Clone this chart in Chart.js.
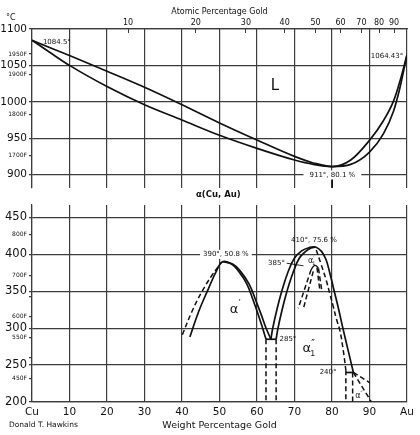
<!DOCTYPE html>
<html lang="en">
<head>
<meta charset="UTF-8">
<title>Copper - Gold</title>
<script src="https://cdn.jsdelivr.net/npm/chart.js"></script>
<style>
  body { margin: 0; background: #fff; }
  .wrap { position: relative; width: 420px; height: 435px; font-family: "DejaVu Sans", sans-serif; color: #111; }
  canvas { position: absolute; left: 0; }
  #topChart { top: 0; }
  #botChart { top: 196px; }
  .note { position: absolute; white-space: nowrap; }
</style>
</head>
<body>
<div class="wrap">
  <canvas id="topChart" width="420" height="196"></canvas>
  <canvas id="botChart" width="420" height="239"></canvas>
  <div class="note" style="left:6px; top:13px; font-size:8px;">°C</div>
  <div class="note" style="left:196px; top:189px; font-size:8.5px; font-weight:bold;">α(Cu, Au)</div>
  <div class="note" style="left:9px; top:420px; font-size:7.5px;">Donald T. Hawkins</div>
</div>
<script>
// ---- top panel: liquidus / solidus (wt% Au, deg C)
const liqWt = [0, 5, 10, 20, 30, 40, 50, 60, 70, 75, 80.1, 85, 90, 93.7, 96.4, 98.1, 100];
const liqT  = [1084.5, 1074, 1063.5, 1042, 1020, 996, 971, 947.5, 925, 916, 911, 920, 947, 974, 1001, 1028, 1064.43];
const solWt = [0, 5, 10, 20, 30, 40, 50, 60, 70, 75, 80.1, 85, 90, 93.7, 96.4, 98.1, 100];
const solT  = [1084.5, 1067, 1050, 1021, 996, 975, 954, 936, 920, 914, 911, 914, 931, 956, 987, 1019, 1064.43];
const minTickWt = [80.1, 80.1];
const minTickT  = [894, 882];

// ---- bottom panel: ordering domes
// alpha' dome
const a1OuterLWt = [40.1, 42.6, 45.2, 47.9, 49.7, 50.5];
const a1OuterLT  = [291, 322, 348.5, 371, 383.4, 389];
const a1InnerWt  = [42.1, 44.4, 47.0, 49.2, 50.8, 53.3, 55.0, 57.3, 59.0, 60.4, 61.4, 62.4];
const a1InnerT   = [288, 322, 353, 377.6, 390, 386.6, 377.6, 359.8, 337.4, 317.3, 301.6, 285];
const a1OuterRWt = [50.8, 53.6, 55.5, 57.9, 59.7, 61.2, 62.3, 63.7];
const a1OuterRT  = [390, 386.6, 377.6, 359.8, 337.4, 317.3, 301.6, 285];
// alpha1'' dome
const a2OuterWt = [63.7, 64.2, 65.3, 66.6, 68.2, 70.0, 72.0, 73.8, 75.6, 77.2, 78.4, 79.4, 80.6, 81.8, 82.9, 84.3, 85.7];
const a2OuterT  = [285, 300, 325, 350, 375, 395, 405, 409, 410, 404, 393, 375, 350, 325, 300, 270, 240];
const a2InnerLWt = [65.1, 65.6, 66.7, 68.0, 69.6, 71.3, 73.0, 74.4, 75.6];
const a2InnerLT  = [285, 300, 325, 350, 375, 395, 404, 408.5, 410];
const a2InnerRWt = [75.8, 77.0, 78.4, 79.4, 80.3, 81.2, 82.1, 83.0, 83.7];
const a2InnerRT  = [406, 388, 366, 347, 330, 312, 297, 270, 243];
// alpha1' region
const capWt = [74.4, 75.0, 75.5, 76.0, 76.4];
const capT  = [379, 383.5, 385, 383.5, 381];
const leaderWt = [67.9, 72.4];
const leaderT  = [388, 384.5];
const a3LineA = { wt: [74.4, 71.0], t: [379, 327] };
const a3LineB = { wt: [75.0, 72.4], t: [377, 327] };
const a3LineC = { wt: [76.0, 76.8], t: [382, 350] };
const a3LineD = { wt: [76.4, 77.3], t: [381, 350] };
// invariant lines and lower boundaries
const eut285Wt = [62.4, 65.1];
const eut285T  = [285, 285];
const eut240Wt = [83.7, 85.7];
const eut240T  = [240, 240];
const vertA = { wt: [62.4, 62.4], t: [285, 200] };
const vertB = { wt: [65.1, 65.1], t: [285, 200] };
const vertC = { wt: [83.7, 83.7], t: [243, 200] };
const vertD = { wt: [85.5, 85.5], t: [240, 200] };
const diagA = { wt: [85.7, 90.1], t: [240, 226] };
const diagB = { wt: [85.7, 90.5], t: [240, 200] };

// ---- ticks
const atPct = [10, 20, 30, 40, 50, 60, 70, 80, 90];
const topC = [900, 950, 1000, 1050, 1100];
const topF = [1950, 1900, 1800, 1700];
const botC = [200, 250, 300, 350, 400, 450];
const botF = [800, 700, 600, 550, 450];
const botFPlain = [650, 500];

const INK = '#111';
const GRID = '#3c3c3c';
const FAM = '"DejaVu Sans", sans-serif';

function atToWt(a) {
  const au = 196.97, cu = 63.55;
  return 100 * a * au / (a * au + (100 - a) * cu);
}
function fToC(f) { return (f - 32) * 5 / 9; }

function line(xs, ys, extra) {
  return Object.assign({
    data: xs.map((x, i) => ({ x: x, y: ys[i] })),
    borderColor: INK, borderWidth: 1.7, pointRadius: 0, fill: false, tension: 0
  }, extra || {});
}
const mono = { cubicInterpolationMode: 'monotone' };
const curve = { tension: 0.4 };
const dash = { borderDash: [5, 3], borderWidth: 1.5 };
const dashCurve = { borderDash: [5, 3], borderWidth: 1.5, tension: 0.4 };

function yAxis(min, max, cList, fList, fPlain, bigSize) {
  return {
    type: 'linear', min: min, max: max,
    afterBuildTicks: s => {
      const t = cList.map(v => ({ value: v }));
      fList.forEach(f => t.push({ value: fToC(f), lab: f + 'F', isF: true }));
      fPlain.forEach(f => t.push({ value: fToC(f), lab: '', isF: true }));
      s.ticks = t.sort((a, b) => a.value - b.value);
    },
    ticks: {
      autoSkip: false, padding: 2, color: INK,
      font: ctx => (ctx.tick && ctx.tick.isF) ? { size: 6, family: FAM } : { size: bigSize, family: FAM },
      callback: function (v, i, ticks) { return ticks[i].isF ? ticks[i].lab : String(v); }
    },
    grid: {
      color: ctx => (ctx.tick && ctx.tick.isF) ? 'rgba(0,0,0,0)' : GRID,
      tickColor: GRID, tickLength: 3, lineWidth: 1.2
    },
    border: { color: GRID, width: 1.2 },
    afterFit: s => { s.width = 32; }
  };
}

const notePlugin = {
  id: 'notes',
  afterDatasetsDraw(chart, args, opts) {
    const ctx = chart.ctx, xs = chart.scales.x, ys = chart.scales.y;
    ctx.save();
    ctx.textBaseline = 'middle';
    (opts.items || []).forEach(n => {
      const px = xs.getPixelForValue(n.x), py = ys.getPixelForValue(n.y);
      ctx.font = n.size + 'px ' + FAM;
      ctx.textAlign = n.align || 'center';
      const w = ctx.measureText(n.text).width;
      if (n.bg) {
        let left = px - w / 2;
        if (n.align === 'left') left = px;
        if (n.align === 'right') left = px - w;
        ctx.fillStyle = '#fff';
        ctx.fillRect(left - n.bg, py - n.size / 2 - 1, w + 2 * n.bg, n.size + 2);
      }
      ctx.fillStyle = INK;
      ctx.fillText(n.text, px, py);
      if (n.primes) {
        ctx.font = (n.size * 0.75) + 'px ' + FAM;
        ctx.textAlign = 'left';
        ctx.fillText(n.primes === 2 ? '″' : '′', px + w / 2, py - n.size * 0.35);
      }
      if (n.sub) {
        ctx.font = (n.size * 0.6) + 'px ' + FAM;
        ctx.textAlign = 'left';
        ctx.fillText(n.sub, px + w / 2 - 1, py + n.size * 0.4);
      }
    });
    ctx.restore();
  }
};

// ---------------- top chart
new Chart(document.getElementById('topChart'), {
  type: 'line',
  data: {
    datasets: [
      line(liqWt, liqT, mono),
      line(solWt, solT, mono),
      line(minTickWt, minTickT, { borderWidth: 1 })
    ]
  },
  options: {
    responsive: false, animation: false,
    layout: { padding: { left: 0, right: 13, top: 0, bottom: 4 } },
    plugins: {
      legend: { display: false }, tooltip: { enabled: false },
      notes: {
        items: [
          { text: '1084.5°', x: 2.9, y: 1082, size: 7, align: 'left' },
          { text: '1064.43°', x: 99.0, y: 1063.3, size: 7, align: 'right' },
          { text: 'L', x: 64.8, y: 1021.4, size: 15 },
          { text: '911°, 80.1 %', x: 80.1, y: 899.5, size: 7, bg: 6 }
        ]
      }
    },
    scales: {
      x: {
        type: 'linear', min: 0, max: 100, position: 'bottom',
        ticks: { display: false, stepSize: 10 },
        grid: { color: GRID, lineWidth: 1.2, drawTicks: false },
        border: { display: false },
        afterFit: s => { s.height = 0; }
      },
      xa: {
        type: 'linear', min: 0, max: 100, position: 'top',
        afterBuildTicks: s => { s.ticks = atPct.map(a => ({ value: atToWt(a) })); },
        ticks: {
          autoSkip: false, maxRotation: 0, padding: 5.5, color: INK,
          font: { size: 8, family: FAM },
          callback: (v, i) => String(atPct[i])
        },
        grid: { drawOnChartArea: false, tickLength: -4, color: GRID, lineWidth: 1 },
        border: { color: GRID, width: 1.2 },
        title: { display: true, text: 'Atomic Percentage Gold', color: INK, font: { size: 8, family: FAM }, padding: { top: 7, bottom: 0 } },
        afterFit: s => { s.height = 29; }
      },
      y: yAxis(882, 1100, topC, topF, [], 10.5)
    }
  },
  plugins: [notePlugin]
});

// ---------------- bottom chart
new Chart(document.getElementById('botChart'), {
  type: 'line',
  data: {
    datasets: [
      line(a1OuterLWt, a1OuterLT, dashCurve),
      line(a1InnerWt, a1InnerT, curve),
      line(a1OuterRWt, a1OuterRT, curve),
      line(a2OuterWt, a2OuterT, curve),
      line(a2InnerLWt, a2InnerLT, curve),
      line(a2InnerRWt, a2InnerRT, dashCurve),
      line(capWt, capT, { borderWidth: 1.3, tension: 0.4 }),
      line(leaderWt, leaderT, { borderWidth: 0.9 }),
      line(a3LineA.wt, a3LineA.t, dash),
      line(a3LineB.wt, a3LineB.t, dash),
      line(a3LineC.wt, a3LineC.t, dash),
      line(a3LineD.wt, a3LineD.t, dash),
      line(eut285Wt, eut285T),
      line(eut240Wt, eut240T),
      line(vertA.wt, vertA.t, dash),
      line(vertB.wt, vertB.t, dash),
      line(vertC.wt, vertC.t, dash),
      line(vertD.wt, vertD.t, dash),
      line(diagA.wt, diagA.t, dash),
      line(diagB.wt, diagB.t, dash)
    ]
  },
  options: {
    responsive: false, animation: false,
    layout: { padding: { left: 0, right: 13, top: 7, bottom: 0 } },
    plugins: {
      legend: { display: false }, tooltip: { enabled: false },
      notes: {
        items: [
          { text: '390°, 50.8 %', x: 51.7, y: 400, size: 7, bg: 3 },
          { text: '410°, 75.6 %', x: 75.2, y: 419, size: 7 },
          { text: '385°', x: 65.2, y: 388, size: 7 },
          { text: '285°', x: 66.0, y: 284.7, size: 7, align: 'left' },
          { text: '240°', x: 81.2, y: 240.5, size: 7, align: 'right' },
          { text: 'α', x: 53.9, y: 325.7, size: 13, primes: 1 },
          { text: 'α', x: 73.3, y: 272, size: 13, primes: 2, sub: '1' },
          { text: 'α', x: 74.3, y: 391, size: 8, primes: 1, sub: '1' },
          { text: 'α', x: 86.9, y: 208, size: 8, primes: 2 }
        ]
      }
    },
    scales: {
      x: {
        type: 'linear', min: 0, max: 100, position: 'bottom',
        ticks: {
          stepSize: 10, autoSkip: false, maxRotation: 0, padding: 4, color: INK,
          font: { size: 10.5, family: FAM },
          callback: v => v === 0 ? 'Cu' : (v === 100 ? 'Au' : String(v))
        },
        grid: { color: GRID, lineWidth: 1.2, drawTicks: false },
        border: { color: GRID, width: 1.2 },
        title: { display: true, text: 'Weight Percentage Gold', color: INK, font: { size: 9.5, family: FAM }, padding: { top: 3, bottom: 4 } },
        afterFit: s => { s.height = 33; }
      },
      y: yAxis(200, 467, botC, botF, botFPlain, 11.5)
    }
  },
  plugins: [notePlugin]
});
</script>
</body>
</html>
